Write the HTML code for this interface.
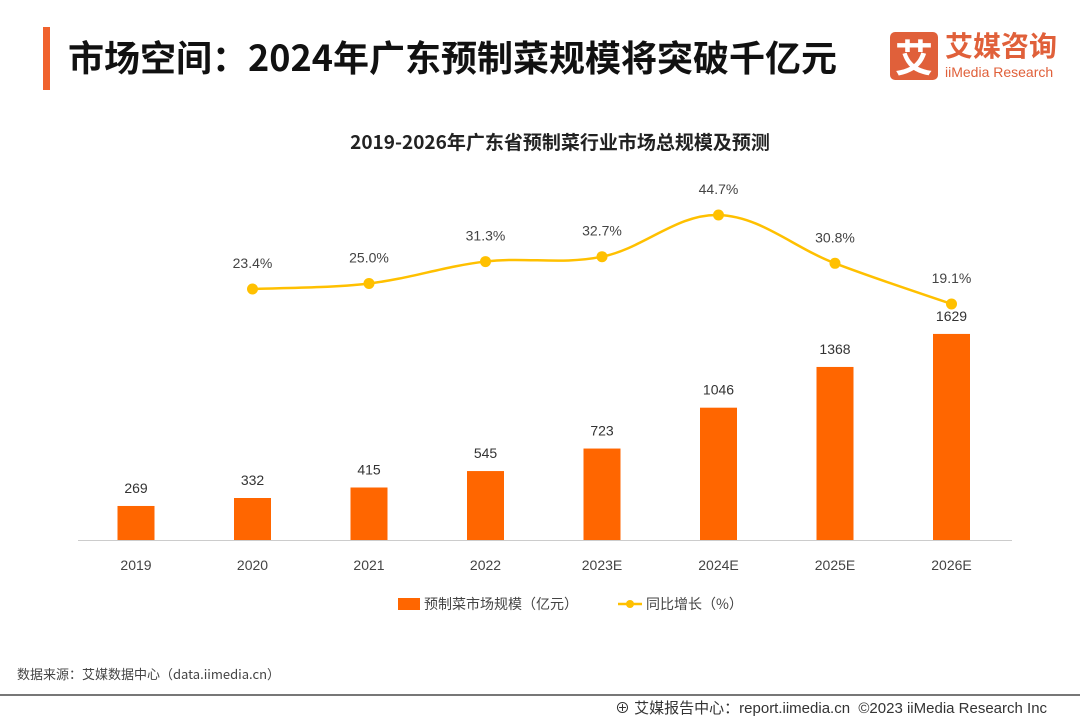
<!DOCTYPE html>
<html><head><meta charset="utf-8"><style>
body{margin:0;width:1080px;height:720px;background:#fff;overflow:hidden;font-family:"Liberation Sans","Noto Sans CJK SC",sans-serif;position:relative}
.abs{position:absolute}
</style></head><body>
<div class="abs" style="left:43px;top:27px;width:7px;height:63px;background:#f0622d"></div>
<div class="abs" style="left:68px;top:31px;font-size:36px;font-weight:bold;color:#111;font-family:'Noto Sans CJK SC',sans-serif;line-height:50px">市场空间：2024年广东预制菜规模将突破千亿元</div>
<div class="abs" style="left:890px;top:32px;width:48px;height:48px;background:#e0603a;border-radius:5px;color:#fff;font-size:38px;font-weight:bold;text-align:center;line-height:48px;font-family:'Noto Sans CJK SC',sans-serif">艾</div>
<div class="abs" style="left:945px;top:28px;color:#e0603a;font-size:28px;font-weight:bold;font-family:'Noto Sans CJK SC',sans-serif;line-height:34px">艾媒咨询</div>
<div class="abs" style="left:945px;top:64px;color:#e0603a;font-size:14px;line-height:16px">iiMedia Research</div>
<div class="abs" style="left:0;width:1120px;top:128px;text-align:center;font-size:19px;font-weight:bold;color:#222;font-family:'Noto Sans CJK SC',sans-serif">2019-2026年广东省预制菜行业市场总规模及预测</div>
<svg class="abs" style="left:0;top:0" width="1080" height="720" id="chart"></svg>
<div class="abs" style="left:17px;top:664px;font-size:13px;color:#444;font-family:'Noto Sans CJK SC',sans-serif">数据来源：艾媒数据中心（data.iimedia.cn）</div>
<div class="abs" style="left:0;top:694px;width:1080px;height:2px;background:#777"></div>
<div class="abs" style="left:615px;top:697px;font-size:15px;color:#333;font-family:'Liberation Sans','Noto Sans CJK SC',sans-serif">⊕ 艾媒报告中心：report.iimedia.cn &nbsp;©2023 iiMedia Research Inc</div>
<script>
const categories=["2019","2020","2021","2022","2023E","2024E","2025E","2026E"];
const marketSize=[269,332,415,545,723,1046,1368,1629];
const growth=[null,23.4,25.0,31.3,32.7,44.7,30.8,19.1];
const growthLabels=["","23.4%","25.0%","31.3%","32.7%","44.7%","30.8%","19.1%"];
const svg=document.getElementById('chart');
const NS='http://www.w3.org/2000/svg';
const x=i=>136+i*116.5;
const yb=v=>540-v*0.1265;
const yl=v=>370.3-v*3.474;
function mk(t,a){const e=document.createElementNS(NS,t);for(const k in a)e.setAttribute(k,a[k]);svg.appendChild(e);return e;}
const ax=mk('line',{x1:78,x2:1012,y1:540.5,y2:540.5,stroke:'#ccc','stroke-width':1});


categories.forEach((c,i)=>{
 const r=mk('rect',{x:x(i)-18.5,y:yb(marketSize[i]),width:37,height:540-yb(marketSize[i]),fill:'#ff6600'});
 
 
 const t=mk('text',{x:x(i),y:yb(marketSize[i])-13,'text-anchor':'middle','font-size':14,fill:'#333','font-family':'Liberation Sans'});
 t.textContent=marketSize[i];
 
 
 const l=mk('text',{x:x(i),y:570,'text-anchor':'middle','font-size':14,fill:'#444','font-family':'Liberation Sans'});
 l.textContent=c;
 
 
});
const pts=[];growth.forEach((g,i)=>{if(g!==null)pts.push([x(i),yl(g)]);});
let d='M'+pts[0][0]+','+pts[0][1];
for(let i=0;i<pts.length-1;i++){
 const p0=pts[Math.max(0,i-1)],p1=pts[i],p2=pts[i+1],p3=pts[Math.min(pts.length-1,i+2)];
 const k=0.18;
 d+=' C'+(p1[0]+(p2[0]-p0[0])*k)+','+(p1[1]+(p2[1]-p0[1])*k)+' '+(p2[0]-(p3[0]-p1[0])*k)+','+(p2[1]-(p3[1]-p1[1])*k)+' '+p2[0]+','+p2[1];
}
const line=mk('path',{d:d,fill:'none',stroke:'#ffc000','stroke-width':2.5});


growth.forEach((g,i)=>{if(g===null)return;
 const c=mk('circle',{cx:x(i),cy:yl(g),r:5.5,fill:'#ffc000'});
 
 
 const t=mk('text',{x:x(i),y:yl(g)-21,'text-anchor':'middle','font-size':14,fill:'#444','font-family':'Liberation Sans'});
 t.textContent=growthLabels[i];
 
 
});
const lg1=mk('rect',{x:398,y:598,width:22,height:12,fill:'#ff6600'});


const lt1=mk('text',{x:424,y:609,'font-size':14,fill:'#444','font-family':'Noto Sans CJK SC'});
lt1.textContent='预制菜市场规模（亿元）';


const lg2=mk('line',{x1:618,x2:642,y1:604,y2:604,stroke:'#ffc000','stroke-width':2.5});


const lg3=mk('circle',{cx:630,cy:604,r:4,fill:'#ffc000'});


const lt2=mk('text',{x:646,y:609,'font-size':14,fill:'#444','font-family':'Noto Sans CJK SC'});
lt2.textContent='同比增长（%）';


</script>
</body></html>
